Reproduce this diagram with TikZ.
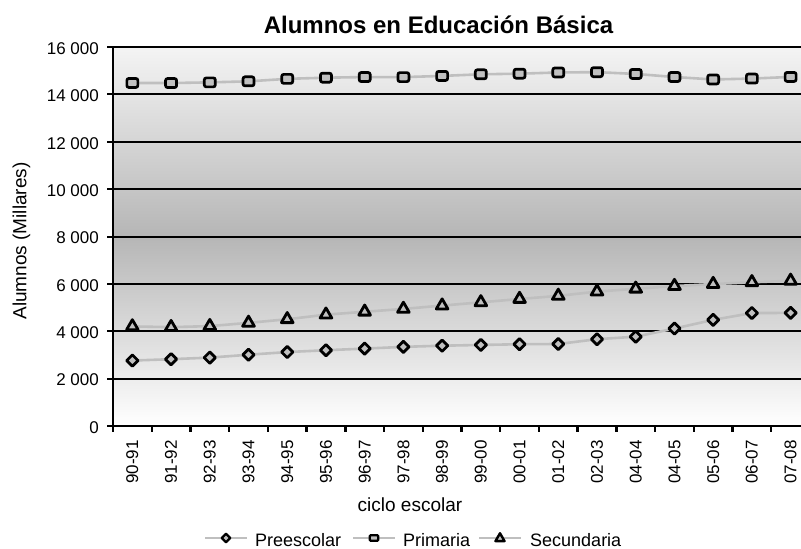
\documentclass[tikz,border=0pt]{standalone}
\usepackage{fontspec}
\setmainfont{Liberation Sans}
\usetikzlibrary{shapes.geometric}
\definecolor{serieline}{HTML}{BFBFBF}
\definecolor{markfill}{HTML}{C0C0C0}
\definecolor{bgtop}{HTML}{F4F4F4}
\definecolor{bgmid}{HTML}{B6B6B6}
\definecolor{bgbot}{HTML}{FFFFFF}
\tikzset{
  gridln/.style={line width=2pt, black},
  axisln/.style={line width=2.4pt, black},
  serie/.style={line width=2.6pt, serieline, line join=round},
  mksq/.style={draw=black, fill=markfill, line width=2.7pt, rectangle, rounded corners=2pt, minimum width=11pt, minimum height=9pt, inner sep=0pt},
  mkdia/.style={draw=black, fill=markfill, line width=2.8pt, line join=round, diamond, minimum width=12.5pt, minimum height=12.5pt, inner sep=0pt},
  mktri/.style={draw=black, fill=markfill, line width=2.8pt, line join=round, regular polygon, regular polygon sides=3, minimum size=13.5pt, inner sep=0pt},
  lgsq/.style={mksq, line width=2.4pt, minimum width=8.5pt, minimum height=5.5pt, rounded corners=1pt},
  lgdia/.style={mkdia, line width=2.4pt, minimum width=9.5pt, minimum height=9.5pt},
  lgtri/.style={mktri, line width=2.4pt, minimum size=10.5pt},
  ticklab/.style={font=\fontsize{17}{20}\selectfont, inner sep=0pt},
  lablab/.style={font=\fontsize{19}{22}\selectfont, inner sep=0pt},
  legtxt/.style={font=\fontsize{18}{21}\selectfont, inner sep=0pt, anchor=base west},
}
\begin{document}
\begin{tikzpicture}[x=1pt,y=-1pt]
\useasboundingbox (0,0) rectangle (801,549);
\begin{scope}
\clip (0,0) rectangle (801,549);
% plot background
\shade[top color=bgtop, bottom color=bgbot, middle color=bgmid] (113,47) rectangle (810,426);
% gridlines and y ticks
\foreach \k in {1,...,8} {
  \draw[gridln] (107,{426-\k*47.375}) -- (810,{426-\k*47.375});
}
\foreach \k/\t in {0/0,1/2 000,2/4 000,3/6 000,4/8 000,5/10 000,6/12 000,7/14 000,8/16 000} {
  \node[ticklab, anchor=east] (yl\k) at (99,{427.5-\k*47.375}) {\t};
}
\draw[axisln] (107,426) -- (113,426);
% axes
\draw[axisln] (113,46) -- (113,426) -- (810,426);
% x ticks and labels
\foreach \k in {0,...,18} {
  \draw[axisln] ({113+38.72*\k},425) -- ({113+38.72*\k},432);
}
\foreach \t [count=\i from 0] in {90-91,91-92,92-93,93-94,94-95,95-96,96-97,97-98,98-99,99-00,00-01,01-02,02-03,04-04,04-05,05-06,06-07,07-08} {
  \node[ticklab, rotate=90, anchor=east] (xl\i) at ({113+38.72*(\i+0.5)},440) {\t};
}
% data coordinates
\foreach \v [count=\i from 0] in {2764,2821,2888,3010,3122,3200,3268,3342,3390,3423,3453,3463,3666,3772,4116,4482,4770,4776} {
  \coordinate (pre\i) at ({113+38.72*(\i+0.5)},{426-\v*0.0236875});
}
\foreach \v [count=\i from 0] in {14486,14482,14510,14554,14659,14708,14735,14732,14783,14851,14878,14928,14942,14866,14737,14633,14671,14740} {
  \coordinate (pri\i) at ({113+38.72*(\i+0.5)},{426-\v*0.0236875});
}
\foreach \v [count=\i from 0] in {4205,4175,4218,4356,4508,4702,4824,4944,5085,5223,5364,5495,5675,5795,5909,5994,6070,6131} {
  \coordinate (sec\i) at ({113+38.72*(\i+0.5)},{426-\v*0.0236875});
}
% series lines
\draw[serie] (pre0) \foreach \i in {1,...,17} { -- (pre\i) };
\draw[serie] (pri0) \foreach \i in {1,...,17} { -- (pri\i) };
\draw[serie] (sec0) \foreach \i in {1,...,17} { -- (sec\i) };
% markers
\foreach \i in {0,...,17} {
  \node[mkdia] (mpre\i) at (pre\i) {};
  \node[mksq] (mpri\i) at (pri\i) {};
  \node[mktri] (msec\i) at (sec\i) {};
}
\end{scope}
% titles
\node[font=\bfseries\fontsize{24}{28}\selectfont, inner sep=0pt, anchor=base] (title) at (438.5,33) {Alumnos en Educación Básica};
\node[lablab, rotate=90] (ytitle) at (21.5,241) {Alumnos (Millares)};
\node[lablab, anchor=base] (xtitle) at (410,511) {ciclo escolar};
% legend
\coordinate (lga) at (205,538); \coordinate (lgb) at (247,538);
\coordinate (lgc) at (353,538); \coordinate (lgd) at (395,538);
\coordinate (lge) at (479,538); \coordinate (lgf) at (521,538);
\draw[serie] (lga) -- (lgb);
\draw[serie] (lgc) -- (lgd);
\draw[serie] (lge) -- (lgf);
\node[lgdia] (lgm1) at (226,538) {};
\node[lgsq] (lgm2) at (374,538) {};
\node[lgtri] (lgm3) at (500,538.5) {};
\node[legtxt] (lgt1) at (255,546) {Preescolar};
\node[legtxt] (lgt2) at (403,546) {Primaria};
\node[legtxt] (lgt3) at (530,546) {Secundaria};
\end{tikzpicture}
\end{document}
